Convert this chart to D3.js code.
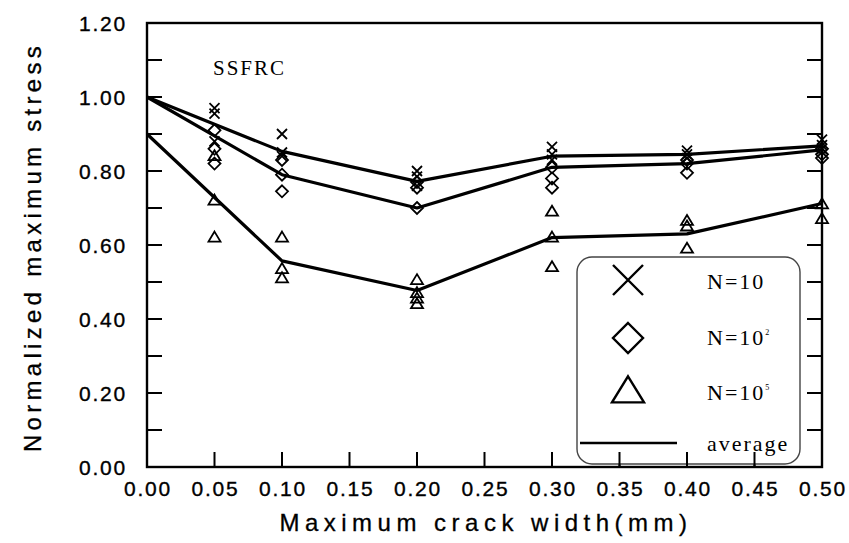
<!DOCTYPE html>
<html>
<head>
<meta charset="utf-8">
<script src="https://cdn.jsdelivr.net/npm/d3@7"></script>
<style>
  html, body { margin: 0; padding: 0; background: #fff; }
  svg { display: block; }
</style>
</head>
<body>
<svg id="chart" width="849" height="543"></svg>
<script>
// Axis ticks
const xTickValues = [0, 0.05, 0.10, 0.15, 0.20, 0.25, 0.30, 0.35, 0.40, 0.45, 0.50];
const yTickValues = [0, 0.1, 0.2, 0.3, 0.4, 0.5, 0.6, 0.7, 0.8, 0.9, 1.0, 1.1, 1.2];
const yLabelValues = [0, 0.2, 0.4, 0.6, 0.8, 1.0, 1.2];

// Individual test results: [crack width (mm), normalized maximum stress]
const n10Points = [
  [0.05, 0.97], [0.05, 0.955], [0.05, 0.88],
  [0.10, 0.90], [0.10, 0.85], [0.10, 0.84],
  [0.20, 0.80], [0.20, 0.785], [0.20, 0.76],
  [0.30, 0.865], [0.30, 0.845], [0.30, 0.83],
  [0.40, 0.855], [0.40, 0.845], [0.40, 0.835],
  [0.50, 0.885], [0.50, 0.87], [0.50, 0.86]
];
const n100Points = [
  [0.05, 0.91], [0.05, 0.86], [0.05, 0.82],
  [0.10, 0.83], [0.10, 0.79], [0.10, 0.745],
  [0.20, 0.77], [0.20, 0.755], [0.20, 0.70],
  [0.30, 0.81], [0.30, 0.78], [0.30, 0.755],
  [0.40, 0.83], [0.40, 0.82], [0.40, 0.795],
  [0.50, 0.86], [0.50, 0.845], [0.50, 0.835]
];
const n1e5Points = [
  [0.05, 0.84], [0.05, 0.72], [0.05, 0.62],
  [0.10, 0.62], [0.10, 0.535], [0.10, 0.51],
  [0.20, 0.505], [0.20, 0.47], [0.20, 0.455], [0.20, 0.44],
  [0.30, 0.69], [0.30, 0.62], [0.30, 0.54],
  [0.40, 0.665], [0.40, 0.65], [0.40, 0.59],
  [0.50, 0.71], [0.50, 0.67]
];

// Average curves
const avgWidth = [0, 0.10, 0.20, 0.30, 0.40, 0.50];
const avgN10   = [1.00, 0.853, 0.772, 0.840, 0.845, 0.868];
const avgN100  = [1.00, 0.790, 0.700, 0.810, 0.820, 0.857];
const avgN1e5  = [0.90, 0.557, 0.477, 0.620, 0.630, 0.712];

const svg = d3.select("#chart");
const plotLeft = 147, plotRight = 822, plotTop = 23, plotBottom = 467;

const x = d3.scaleLinear().domain([0, 0.5]).range([plotLeft, plotRight]);
const y = d3.scaleLinear().domain([0, 1.2]).range([plotBottom, plotTop]);

const sans = "'Liberation Sans', Arial, sans-serif";
const serif = "'Liberation Serif', 'Times New Roman', serif";

// Inward ticks on left, right and bottom
const tickLen = 15;
const gTicks = svg.append("g").attr("stroke", "#000").attr("stroke-width", 2);
gTicks.selectAll("line.yl").data(yTickValues).join("line").attr("class", "yl")
  .attr("x1", plotLeft).attr("x2", plotLeft + tickLen)
  .attr("y1", d => y(d)).attr("y2", d => y(d));
gTicks.selectAll("line.yr").data(yTickValues).join("line").attr("class", "yr")
  .attr("x1", plotRight - tickLen).attr("x2", plotRight)
  .attr("y1", d => y(d)).attr("y2", d => y(d));
gTicks.selectAll("line.xb").data(xTickValues).join("line").attr("class", "xb")
  .attr("x1", d => x(d)).attr("x2", d => x(d))
  .attr("y1", plotBottom).attr("y2", plotBottom - tickLen);

// Frame
svg.append("rect")
  .attr("x", plotLeft).attr("y", plotTop)
  .attr("width", plotRight - plotLeft).attr("height", plotBottom - plotTop)
  .attr("fill", "none").attr("stroke", "#000").attr("stroke-width", 2.4);

// Tick labels
const labelStyle = sel => sel
  .attr("font-family", sans).attr("font-size", 21)
  .attr("letter-spacing", 1.8)
  .attr("stroke", "#000").attr("stroke-width", 0.35);

svg.append("g").selectAll("text").data(yLabelValues).join("text")
  .attr("x", 127).attr("y", d => y(d))
  .attr("dy", "0.36em")
  .attr("text-anchor", "end")
  .call(labelStyle)
  .text(d => d3.format(".2f")(d));

svg.append("g").selectAll("text").data(xTickValues).join("text")
  .attr("x", d => x(d) + 1).attr("y", 496)
  .attr("text-anchor", "middle")
  .call(labelStyle)
  .text(d => d3.format(".2f")(d));

// Axis titles
svg.append("text")
  .attr("x", 486).attr("y", 531)
  .attr("text-anchor", "middle")
  .attr("font-family", sans).attr("font-size", 24)
  .attr("letter-spacing", 5.5)
  .attr("stroke", "#000").attr("stroke-width", 0.3)
  .text("Maximum crack width(mm)");

svg.append("text")
  .attr("transform", "translate(41,247) rotate(-90)")
  .attr("text-anchor", "middle")
  .attr("font-family", sans).attr("font-size", 24)
  .attr("letter-spacing", 4.3)
  .attr("stroke", "#000").attr("stroke-width", 0.3)
  .text("Normalized maximum stress");

svg.append("text")
  .attr("x", 213).attr("y", 75)
  .attr("font-family", serif).attr("font-size", 21)
  .attr("letter-spacing", 2)
  .text("SSFRC");

// Average lines
const line = d3.line().x(d => x(d[0])).y(d => y(d[1]));
[avgN10, avgN100, avgN1e5].forEach(vals => {
  svg.append("path")
    .datum(avgWidth.map((w, i) => [w, vals[i]]))
    .attr("d", line)
    .attr("fill", "none").attr("stroke", "#000")
    .attr("stroke-width", 3.2).attr("stroke-linejoin", "round");
});

// Marker shapes
function crossPath(s) {
  return `M${-s},${-s}L${s},${s}M${-s},${s}L${s},${-s}`;
}
function diamondPath(s) {
  return `M0,${-s}L${s},0L0,${s}L${-s},0Z`;
}
function trianglePath(w, h) {
  return `M0,${-h * 0.6}L${w},${h * 0.4}L${-w},${h * 0.4}Z`;
}

const gPts = svg.append("g").attr("fill", "none").attr("stroke", "#000").attr("stroke-width", 1.8);
gPts.selectAll("path.c").data(n10Points).join("path").attr("class", "c")
  .attr("transform", d => `translate(${x(d[0])},${y(d[1])})`)
  .attr("d", crossPath(5));
gPts.selectAll("path.d").data(n100Points).join("path").attr("class", "d")
  .attr("transform", d => `translate(${x(d[0])},${y(d[1])})`)
  .attr("d", diamondPath(6));
gPts.selectAll("path.t").data(n1e5Points).join("path").attr("class", "t")
  .attr("transform", d => `translate(${x(d[0])},${y(d[1])})`)
  .attr("d", trianglePath(6, 10));

// Legend
const lg = svg.append("g");
lg.append("rect")
  .attr("x", 577).attr("y", 257).attr("width", 223).attr("height", 207)
  .attr("rx", 15).attr("ry", 15)
  .attr("fill", "#fff").attr("stroke", "#444").attr("stroke-width", 1.4);

// bottom ticks show through the legend box
lg.selectAll("line").data(xTickValues.filter(v => x(v) > 577 && x(v) < 800)).join("line")
  .attr("x1", d => x(d)).attr("x2", d => x(d))
  .attr("y1", plotBottom).attr("y2", plotBottom - tickLen)
  .attr("stroke", "#000").attr("stroke-width", 2);

const lgSym = lg.append("g").attr("fill", "none").attr("stroke", "#000").attr("stroke-width", 2.4);
lgSym.append("path").attr("transform", "translate(628,280)").attr("d", crossPath(15));
lgSym.append("path").attr("transform", "translate(628,338)").attr("d", diamondPath(15));
lgSym.append("path").attr("transform", "translate(628,392)").attr("d", trianglePath(16, 26));
lg.append("line")
  .attr("x1", 580).attr("x2", 677).attr("y1", 443).attr("y2", 443)
  .attr("stroke", "#000").attr("stroke-width", 2.6);

const legendLabels = [
  { text: "N=10", sup: "", yPos: 289 },
  { text: "N=10", sup: "2", yPos: 345 },
  { text: "N=10", sup: "5", yPos: 400 },
  { text: "average", sup: "", yPos: 451 }
];
legendLabels.forEach(l => {
  const t = lg.append("text")
    .attr("x", 707).attr("y", l.yPos)
    .attr("font-family", serif).attr("font-size", 22)
    .attr("letter-spacing", 2)
    .text(l.text);
  if (l.sup) {
    t.append("tspan").attr("dy", -10).attr("font-size", 8).attr("letter-spacing", 0).text(l.sup);
  }
});
</script>
</body>
</html>
